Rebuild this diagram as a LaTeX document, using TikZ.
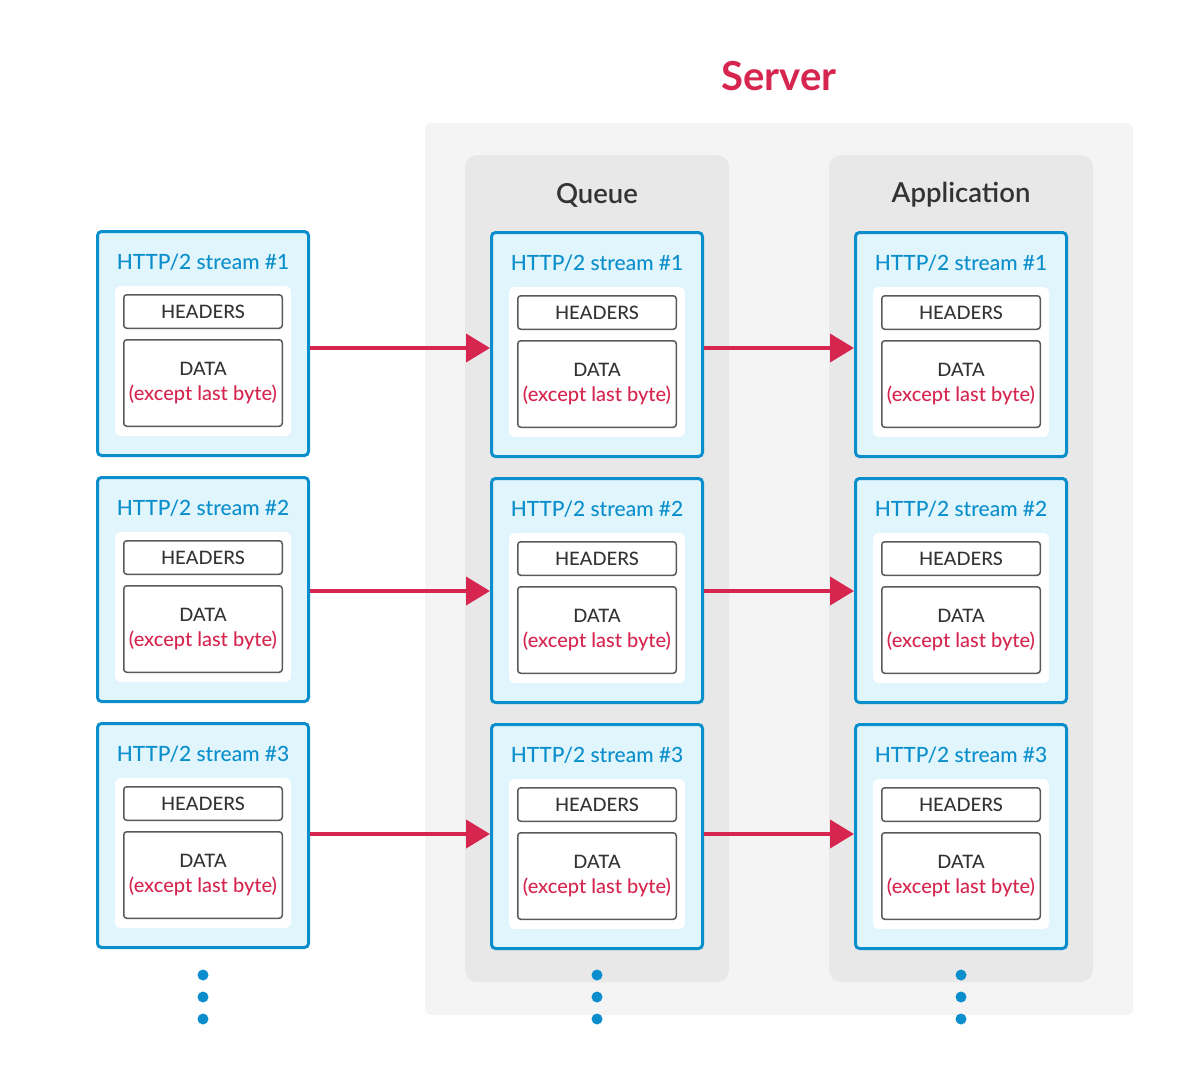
\documentclass[tikz,border=0pt]{standalone}
\usepackage{fontspec}
\setmainfont{Lato}
\IfFontExistsTF{Lato Medium}{\newfontfamily\medfont{Lato Medium}}{\newcommand\medfont{}}
\IfFontExistsTF{Lato Semibold}{\newfontfamily\semifont{Lato Semibold}}{\newcommand\semifont{\bfseries}}
\usetikzlibrary{arrows.meta}
\definecolor{sblue}{HTML}{0B8FCC}
\definecolor{sfill}{HTML}{E1F5FD}
\definecolor{scrim}{HTML}{D6264F}
\definecolor{sgray}{HTML}{333333}
\definecolor{sline}{HTML}{5A5A5A}
\definecolor{bgouter}{HTML}{F4F4F4}
\definecolor{bgpanel}{HTML}{E8E8E8}
\tikzset{
  streamouter/.style={draw=sblue, fill=sfill, line width=3pt, rounded corners=4pt, inner sep=0pt, minimum width=211pt, minimum height=224pt},
  whitein/.style={fill=white, rounded corners=6pt, inner sep=0pt, minimum width=176pt, minimum height=150pt},
  stitle/.style={text=sblue, font=\medfont\fontsize{21}{24}\selectfont, inner sep=0pt},
  hdr/.style={draw=sline, fill=white, line width=1.5pt, rounded corners=3pt, inner sep=0pt, minimum width=158.5pt, minimum height=33.5pt, text=sgray, font=\medfont\fontsize{18.5}{22}\selectfont},
  databox/.style={draw=sline, fill=white, line width=1.5pt, rounded corners=3pt, inner sep=0pt, minimum width=158.5pt, minimum height=86.5pt},
  datatxt/.style={text=sgray, font=\medfont\fontsize{18.5}{22}\selectfont, inner sep=0pt},
  exctxt/.style={text=scrim, font=\medfont\fontsize{20}{22}\selectfont, inner sep=0pt},
  arr/.style={draw=scrim, line width=4pt, -{Triangle[length=24pt,width=28pt]}},
  dot/.style={circle, fill=sblue, inner sep=0pt, minimum size=11pt},
  paneltitle/.style={text=sgray, font=\semifont\fontsize{27.5}{30}\selectfont, inner sep=0pt},
}
\newcommand{\streamgroup}[4]{%
  \node[streamouter] (#1) at (#2,#3+113.5) {};
  \node[whitein] (#1w) at (#2,#3+131) {};
  \node[stitle] (#1t) at (#2,#3+32) {HTTP/2 stream \##4};
  \node[hdr] (#1h) at (#2,#3+81.5) {HEADERS};
  \node[databox] (#1d) at (#2,#3+153) {};
  \node[datatxt] (#1dt) at (#2,#3+139) {DATA};
  \node[exctxt] (#1de) at (#2,#3+164) {(except last byte)};
}
\begin{document}
\begin{tikzpicture}[x=1pt,y=-1pt]
\useasboundingbox (0,0) rectangle (1200,1080);
% server background
\node[fill=bgouter, rounded corners=6pt, inner sep=0pt, minimum width=708pt, minimum height=892pt] (server) at (779,569) {};
\node[fill=bgpanel, rounded corners=12pt, inner sep=0pt, minimum width=264pt, minimum height=827pt] (queue) at (597,568.5) {};
\node[fill=bgpanel, rounded corners=12pt, inner sep=0pt, minimum width=264pt, minimum height=827pt] (app) at (961,568.5) {};
\node[text=scrim, font=\bfseries\fontsize{40}{44}\selectfont, inner sep=0pt] (servert) at (779,76) {Server};
\node[paneltitle] (queuet) at (597,195) {Queue};
\node[paneltitle] (appt) at (961,195) {Application};
% streams
\streamgroup{l1}{203}{230}{1}
\streamgroup{l2}{203}{476}{2}
\streamgroup{l3}{203}{722}{3}
\streamgroup{q1}{597}{231}{1}
\streamgroup{q2}{597}{477}{2}
\streamgroup{q3}{597}{723}{3}
\streamgroup{a1}{961}{231}{1}
\streamgroup{a2}{961}{477}{2}
\streamgroup{a3}{961}{723}{3}
% arrows
\draw[arr] ([yshift=-4.5pt]l1.east) -- ([yshift=-3.5pt]q1.west);
\draw[arr] ([yshift=-3.5pt]q1.east) -- ([yshift=-3.5pt]a1.west);
\draw[arr] ([yshift=-1.5pt]l2.east) -- ([yshift=-0.5pt]q2.west);
\draw[arr] ([yshift=-0.5pt]q2.east) -- ([yshift=-0.5pt]a2.west);
\draw[arr] ([yshift=1.5pt]l3.east) -- ([yshift=2.5pt]q3.west);
\draw[arr] ([yshift=2.5pt]q3.east) -- ([yshift=2.5pt]a3.west);
% dots
\foreach \cx/\nm in {203/l, 597/q, 961/a}{
  \node[dot] (\nm d1) at (\cx,975) {};
  \node[dot] (\nm d2) at (\cx,997) {};
  \node[dot] (\nm d3) at (\cx,1019) {};
}
\end{tikzpicture}
\end{document}
